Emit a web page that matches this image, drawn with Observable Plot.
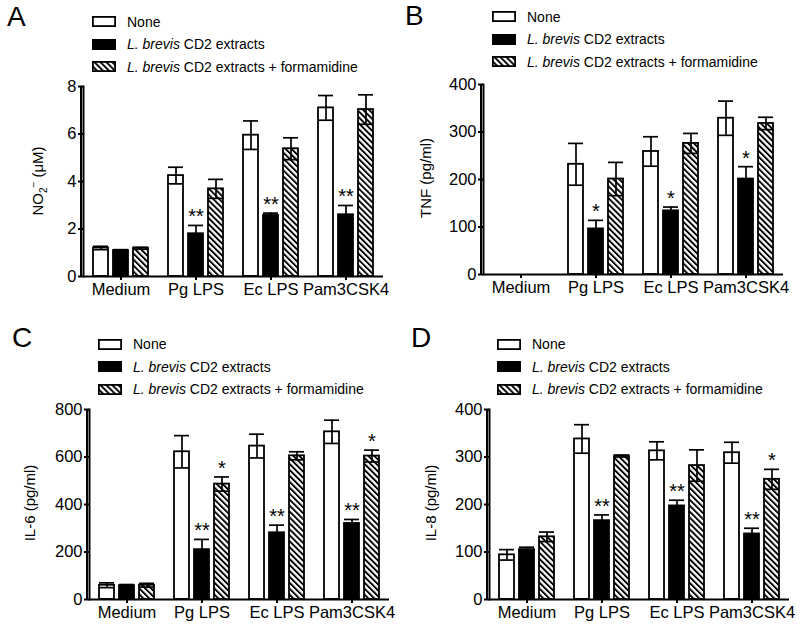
<!DOCTYPE html>
<html><head><meta charset="utf-8">
<script src="https://cdn.jsdelivr.net/npm/d3@7"></script>
<script src="https://cdn.jsdelivr.net/npm/@observablehq/plot@0.6"></script>
<style>
body{margin:0;background:#fff;font-family:Arial,"Liberation Sans",Helvetica,sans-serif;}
#wrap{position:relative;width:800px;height:629px;overflow:hidden;background:#fff;}
.letter{position:absolute;font-size:28px;line-height:28px;color:#000;}
.legend{position:absolute;font-size:14px;color:#000;white-space:nowrap;}
.legend .row{display:flex;align-items:center;height:22.5px;}
.legend svg{margin-right:11px;flex:none;}
.chart{position:absolute;width:400px;height:230px;}
.chart svg{display:block;}
.chart svg g[aria-label$="-axis tick"] path{stroke-width:2px;}
.axisline{position:absolute;width:2px;background:#000;z-index:5;}
.ylabel{position:absolute;font-size:15px;line-height:15px;color:#000;white-space:nowrap;transform:translate(-50%,-50%) rotate(-90deg);}
.ylabel sub,.ylabel sup{font-size:10px;line-height:0;}
</style></head>
<body>
<svg width="0" height="0" style="position:absolute"><defs>
<pattern id="hatch" patternUnits="userSpaceOnUse" width="4.2" height="4.2" patternTransform="rotate(-45)">
<rect width="4.2" height="4.2" fill="white"/><rect width="1.9" height="4.2" fill="black"/>
</pattern></defs></svg>
<div id="wrap"></div>
<script>
const groups = ["Medium", "Pg LPS", "Ec LPS", "Pam3CSK4"];
const treatments = ["None", "L. brevis CD2 extracts", "L. brevis CD2 extracts + formamidine"];

// Panel A: NO2- (uM)
const no2None = [1.2, 4.25, 5.95, 7.1];
const no2NoneErr = [0.07, 0.35, 0.6, 0.52];
const no2Ext = [1.09, 1.8, 2.57, 2.6];
const no2ExtErr = [0.04, 0.35, 0.1, 0.39];
const no2Form = [1.19, 3.69, 5.38, 7.03];
const no2FormErr = [0.04, 0.4, 0.46, 0.62];
const no2StarsExt = ["", "**", "**", "**"];
const no2StarsForm = ["", "", "", ""];

// Panel B: TNF (pg/ml)
const tnfNone = [0, 232, 259, 329];
const tnfNoneErr = [0, 44, 31, 36];
const tnfExt = [0, 96, 134, 201];
const tnfExtErr = [0, 18, 8, 26];
const tnfForm = [0, 201, 276, 318];
const tnfFormErr = [0, 35, 21, 13];
const tnfStarsExt = ["", "*", "*", "*"];
const tnfStarsForm = ["", "", "", ""];

// Panel C: IL-6 (pg/ml)
const il6None = [60, 622, 646, 706];
const il6NoneErr = [10, 68, 50, 49];
const il6Ext = [58, 210, 281, 320];
const il6ExtErr = [5, 43, 32, 17];
const il6Form = [60, 486, 605, 604];
const il6FormErr = [8, 30, 17, 25];
const il6StarsExt = ["", "**", "**", "**"];
const il6StarsForm = ["", "*", "", "*"];

// Panel D: IL-8 (pg/ml)
const il8None = [94, 338, 313, 309];
const il8NoneErr = [11, 30, 19, 22];
const il8Ext = [105, 166, 197, 138];
const il8ExtErr = [5, 12, 12, 12];
const il8Form = [132, 302, 282, 253];
const il8FormErr = [10, 2, 33, 21];
const il8StarsExt = ["", "**", "**", "**"];
const il8StarsForm = ["", "", "", "*"];

const noStars = ["", "", "", ""];
const fills = ["white", "black", "url(#hatch)"];

function buildRows(vals, errs, stars) {
  const rows = [];
  groups.forEach((g, i) => {
    treatments.forEach((t, j) => {
      rows.push({group: g, treatment: t, value: vals[j][i], err: errs[j][i], star: stars[j][i]});
    });
  });
  return rows;
}

const wrap = document.getElementById("wrap");

function addLetter(text, left, top) {
  const d = document.createElement("div");
  d.className = "letter"; d.textContent = text;
  d.style.left = left + "px"; d.style.top = top + "px";
  wrap.appendChild(d);
}

function addLegend(left, top) {
  const d = document.createElement("div");
  d.className = "legend"; d.style.left = left + "px"; d.style.top = top + "px";
  treatments.forEach((t, j) => {
    const row = document.createElement("div");
    row.className = "row";
    row.innerHTML = `<svg width="24" height="11"><rect x="0.9" y="0.9" width="22.2" height="9.2" fill="${fills[j]}" stroke="black" stroke-width="1.8"/></svg><span>${t.replace("L. brevis", "<i>L. brevis</i>")}</span>`;
    d.appendChild(row);
  });
  wrap.appendChild(d);
}

function addYLabel(html, cx, cy) {
  const d = document.createElement("div");
  d.className = "ylabel"; d.innerHTML = html;
  d.style.left = cx + "px"; d.style.top = cy + "px";
  wrap.appendChild(d);
}

const axisLines = [];

function addChart({left, top, marginLeft, marginRight, domain, ticks, rows}) {
  const errs = rows.filter(d => d.err > 0);
  const stars = rows.filter(d => d.star);
  const chart = Plot.plot({
    width: 400, height: 230,
    marginTop: 10, marginBottom: 30, marginLeft, marginRight,
    style: {fontFamily: "Arial, 'Liberation Sans', Helvetica, sans-serif", fontSize: "16.5px", color: "black", background: "transparent"},
    fx: {domain: groups, padding: 0, axis: "bottom", label: null, tickSize: 4, tickPadding: 3},
    x: {domain: treatments, paddingInner: 0.25, paddingOuter: 0.5, axis: null},
    y: {domain, ticks, tickSize: 5, tickPadding: 2, label: null},
    color: {domain: treatments, range: fills},
    marks: [
      Plot.barY(rows, {fx: "group", x: "treatment", y: "value", fill: "treatment", stroke: "black", strokeWidth: 1.8}),
      Plot.ruleX(errs, {fx: "group", x: "treatment", y1: d => d.value - d.err, y2: d => d.value + d.err, stroke: "black", strokeWidth: 1.7}),
      Plot.tickY(errs, {fx: "group", x: "treatment", y: d => d.value + d.err, stroke: "black", strokeWidth: 1.7}),
      Plot.tickY(errs, {fx: "group", x: "treatment", y: d => d.value - d.err, stroke: "black", strokeWidth: 1.7}),
      Plot.text(stars, {fx: "group", x: "treatment", y: d => d.value + d.err, text: "star", lineAnchor: "bottom", dy: -2, fontSize: 20}),
      Plot.ruleY([0], {stroke: "black", strokeWidth: 2}),
      Plot.frame({anchor: "left", facetAnchor: "left", stroke: "black", strokeWidth: 2})
    ]
  });
  const holder = document.createElement("div");
  holder.className = "chart";
  holder.style.left = left + "px"; holder.style.top = top + "px";
  holder.appendChild(chart);
  wrap.appendChild(holder);
  // y-axis line, placed from the plot's own fx and y scales
  const fxS = chart.scale("fx"), yS = chart.scale("y");
  const x0 = Math.min(...fxS.range);
  const yTop = Math.min(...yS.range), yBot = Math.max(...yS.range);
  axisLines.push({x: left + x0 - 1, y: top + yTop, h: yBot - yTop + 1});
}

// Panel A
addLetter("A", 7, 3);
addLegend(92, 10.5);
addYLabel("NO<sub>2</sub><sup>\u2212</sup> (\u03BCM)", 37, 181);
addChart({left: 0, top: 76, marginLeft: 81, marginRight: 16, domain: [0, 8], ticks: [0, 2, 4, 6, 8],
  rows: buildRows([no2None, no2Ext, no2Form], [no2NoneErr, no2ExtErr, no2FormErr], [noStars, no2StarsExt, no2StarsForm])});

// Panel B
addLetter("B", 405, 2);
addLegend(492, 5.5);
addYLabel("TNF (pg/ml)", 425, 178);
addChart({left: 400, top: 74, marginLeft: 81, marginRight: 16, domain: [0, 400], ticks: [0, 100, 200, 300, 400],
  rows: buildRows([tnfNone, tnfExt, tnfForm], [tnfNoneErr, tnfExtErr, tnfFormErr], [noStars, tnfStarsExt, tnfStarsForm])});

// Panel C
addLetter("C", 12, 324);
addLegend(98, 333);
addYLabel("IL-6 (pg/ml)", 28.5, 503);
addChart({left: 0, top: 399, marginLeft: 87, marginRight: 10, domain: [0, 800], ticks: [0, 200, 400, 600, 800],
  rows: buildRows([il6None, il6Ext, il6Form], [il6NoneErr, il6ExtErr, il6FormErr], [noStars, il6StarsExt, il6StarsForm])});

// Panel D
addLetter("D", 411, 324);
addLegend(497, 333);
addYLabel("IL-8 (pg/ml)", 430, 503);
addChart({left: 400, top: 399, marginLeft: 87, marginRight: 10, domain: [0, 400], ticks: [0, 100, 200, 300, 400],
  rows: buildRows([il8None, il8Ext, il8Form], [il8NoneErr, il8ExtErr, il8FormErr], [noStars, il8StarsExt, il8StarsForm])});

axisLines.forEach(a => {
  const d = document.createElement("div");
  d.className = "axisline";
  d.style.left = a.x + "px"; d.style.top = a.y + "px"; d.style.height = a.h + "px";
  wrap.appendChild(d);
});
</script>
</body></html>
